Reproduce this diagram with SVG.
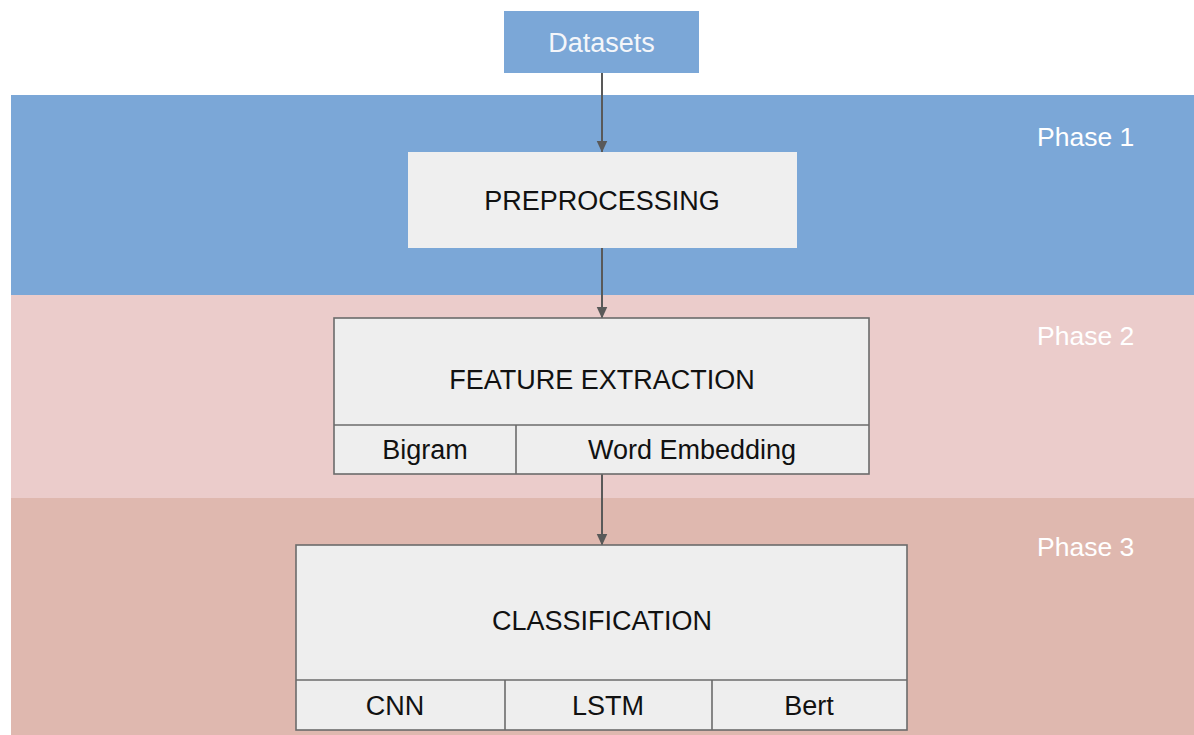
<svg xmlns="http://www.w3.org/2000/svg" width="1194" height="735" viewBox="0 0 1194 735">
  <defs>
    <marker id="arrow" markerWidth="12" markerHeight="12" refX="11.5" refY="5.5" orient="auto" markerUnits="userSpaceOnUse">
      <path d="M0,0 L12,5.5 L0,11 Z" fill="#595959"/>
    </marker>
    <style>
      .lbl { font-family: "Liberation Sans", Arial, sans-serif; font-size: 27px; fill: #111; text-anchor: middle; }
      .phase { font-family: "Liberation Sans", Arial, sans-serif; font-size: 26.5px; fill: #ffffff; }
      .box { fill: #eeeeee; stroke: #6b6b6b; stroke-width: 1.6; }
      .conn { stroke: #595959; stroke-width: 2; fill: none; }
    </style>
  </defs>

  <rect width="1194" height="735" fill="#ffffff"/>

  <!-- phase bands -->
  <g id="bands">
    <rect x="11" y="95" width="1183" height="200" fill="#7ba7d7"/>
    <rect x="11" y="295" width="1183" height="203" fill="#ebcccb"/>
    <rect x="11" y="498" width="1183" height="237" fill="#dfb8af"/>
    <text class="phase" x="1037" y="146">Phase 1</text>
    <text class="phase" x="1037" y="345">Phase 2</text>
    <text class="phase" x="1037" y="556">Phase 3</text>
  </g>

  <!-- connectors -->
  <g id="connectors">
    <line class="conn" x1="602" y1="73" x2="602" y2="152" marker-end="url(#arrow)"/>
    <line class="conn" x1="602" y1="248" x2="602" y2="318" marker-end="url(#arrow)"/>
    <line class="conn" x1="602" y1="474" x2="602" y2="545" marker-end="url(#arrow)"/>
  </g>

  <g id="datasets">
    <rect x="504" y="11" width="195" height="62" fill="#7ba7d7"/>
    <text class="lbl" x="601.5" y="52" style="fill:#f4f6fa">Datasets</text>
  </g>

  <g id="preprocessing">
    <rect x="408" y="152" width="389" height="96" fill="#efefef"/>
    <text class="lbl" x="602" y="210">PREPROCESSING</text>
  </g>

  <g id="feature-extraction">
    <rect class="box" x="334" y="318" width="535" height="156"/>
    <line class="box" x1="334" y1="425" x2="869" y2="425"/>
    <line class="box" x1="516" y1="425" x2="516" y2="474"/>
    <text class="lbl" x="602" y="389">FEATURE EXTRACTION</text>
    <text class="lbl" x="425" y="459">Bigram</text>
    <text class="lbl" x="692" y="459">Word Embedding</text>
  </g>

  <g id="classification">
    <rect class="box" x="296" y="545" width="611" height="185"/>
    <line class="box" x1="296" y1="680" x2="907" y2="680"/>
    <line class="box" x1="505" y1="680" x2="505" y2="730"/>
    <line class="box" x1="712" y1="680" x2="712" y2="730"/>
    <text class="lbl" x="602" y="630">CLASSIFICATION</text>
    <text class="lbl" x="395" y="715">CNN</text>
    <text class="lbl" x="608" y="715">LSTM</text>
    <text class="lbl" x="809" y="715">Bert</text>
  </g>
</svg>
